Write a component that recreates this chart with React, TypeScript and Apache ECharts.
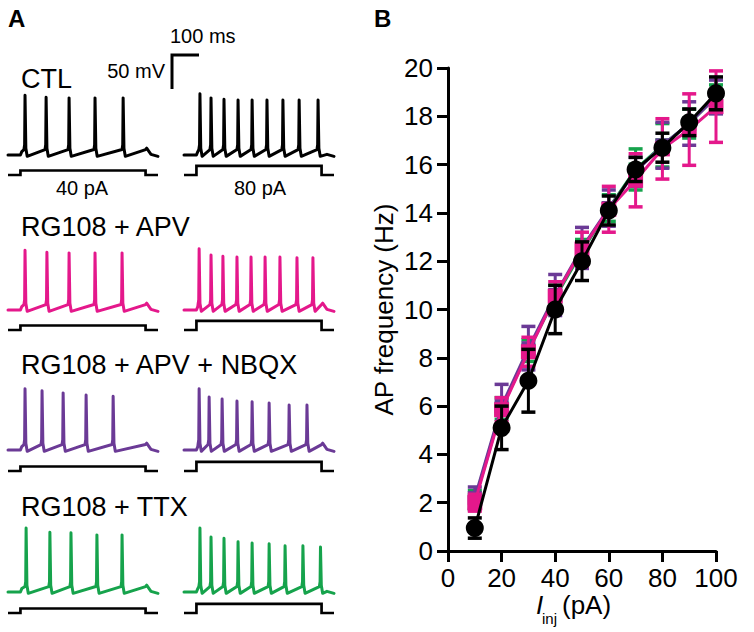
import React, { useEffect, useRef } from "react";
import * as echarts from "echarts";

// ---------- Panel B data ----------
const currents = [10, 20, 30, 40, 50, 60, 70, 80, 90, 100];
const ctlMean = [0.95, 5.1, 7.05, 10.0, 12.0, 14.1, 15.8, 16.7, 17.75, 18.95];
const ctlSem = [0.42, 0.9, 1.3, 1.0, 0.8, 0.6, 0.5, 0.6, 0.55, 0.68];
const apvMean = [2.0, 5.85, 8.25, 10.55, 12.5, 14.15, 15.35, 16.65, 17.45, 18.4];
const apvSem = [0.35, 0.5, 0.6, 0.6, 0.7, 0.95, 1.1, 1.25, 1.48, 1.48];
const nbqxMean = [2.2, 6.0, 8.4, 10.6, 12.55, 14.2, 15.7, 16.8, 17.7, 18.8];
const nbqxSem = [0.45, 0.9, 0.9, 0.85, 0.85, 0.75, 0.6, 0.95, 0.9, 0.7];
const ttxMean = [2.1, 5.9, 8.3, 10.5, 12.4, 14.2, 15.8, 16.8, 17.7, 18.8];
const ttxSem = [0.4, 0.45, 0.45, 0.5, 0.5, 0.55, 0.85, 0.9, 0.6, 0.5];
const yRange = [0, 20];
const xRange = [0, 100];

// ---------- Panel A data (spike times in ms, spike peaks in mV) ----------
const rowLabels = ["CTL", "RG108 + APV", "RG108 + APV + NBQX", "RG108 + TTX"];
const stepAmps = [40, 80]; // pA
const stepLabels = ["40 pA", "80 pA"];
const spikesCtl40 = [63, 141, 226, 322, 426];
const peaksCtl40 = [23, 20, 19, 19, 19];
const spikesCtl80 = [59, 100, 148, 200, 252, 307, 366, 426, 496];
const peaksCtl80 = [25, 19, 17, 16, 16, 16, 16, 16, 16];
const spikesApv40 = [63, 144, 226, 322, 422];
const peaksApv40 = [23, 20, 19, 19, 19];
const spikesApv80 = [56, 100, 144, 196, 248, 300, 355, 418, 477];
const peaksApv80 = [25, 16, 14, 13, 13, 13, 13, 12, 12];
const spikesNbqx40 = [63, 126, 204, 289, 389];
const peaksNbqx40 = [25, 22, 19, 16, 14];
const spikesNbqx80 = [56, 93, 141, 196, 252, 315, 389, 455];
const peaksNbqx80 = [25, 13, 10, 7, 6, 4, 1, 1];
const spikesTtx40 = [67, 155, 233, 329, 422];
const peaksTtx40 = [29, 23, 22, 19, 19];
const spikesTtx80 = [59, 100, 148, 200, 252, 315, 374, 440, 505];
const peaksTtx80 = [29, 16, 14, 9, 7, 6, 3, 3, 1];
const stepOnset = 46; // ms
const stepOffset = 509; // ms
const sweepEnd = 555; // ms
const restV = -65; // mV

const BLACK = "#000000";
const PINK = "#E4188B";
const PURPLE = "#6B3A96";
const GREEN = "#16A34C";
const FONT = "Liberation Sans";

const traceSets = [
  { color: BLACK, cols: [[spikesCtl40, peaksCtl40], [spikesCtl80, peaksCtl80]] },
  { color: PINK, cols: [[spikesApv40, peaksApv40], [spikesApv80, peaksApv80]] },
  { color: PURPLE, cols: [[spikesNbqx40, peaksNbqx40], [spikesNbqx80, peaksNbqx80]] },
  { color: GREEN, cols: [[spikesTtx40, peaksTtx40], [spikesTtx80, peaksTtx80]] },
];

function buildTrace(spikes: number[], peaks: number[]) {
  const pts: number[][] = [[0, restV], [stepOnset, restV], [stepOnset + 5, restV + 5]];
  spikes.forEach((t, i) => {
    pts.push([t - 4, restV + 8], [t - 1.5, restV + 15], [t, peaks[i]], [t + 3, restV + 10], [t + 8, restV - 2]);
  });
  const last = spikes[spikes.length - 1];
  if (last + 8 < stepOffset - 5) {
    pts.push([stepOffset, restV + 8], [stepOffset + 4, restV + 10]);
  }
  pts.push([stepOffset + 20, restV + 1], [sweepEnd, restV - 2]);
  return pts;
}

function buildStep(amp: number) {
  return [[0, 0], [stepOnset, 0], [stepOnset, amp], [stepOffset, amp], [stepOffset, 0], [sweepEnd, 0]];
}

export default function App() {
  const ref = useRef<HTMLDivElement>(null);
  useEffect(() => {
    if (!ref.current) return;
    const chart = echarts.init(ref.current, null, { renderer: "svg" });

    const grids: any[] = [];
    const xAxes: any[] = [];
    const yAxes: any[] = [];
    const series: any[] = [];

    // Panel B grid (index 0)
    grids.push({ left: 448, top: 68, width: 268, height: 483 });
    xAxes.push({
      type: "value", gridIndex: 0, min: xRange[0], max: xRange[1], interval: 20,
      axisLine: { lineStyle: { color: BLACK, width: 3 } },
      axisTick: { length: 11, lineStyle: { color: BLACK, width: 3 } },
      axisLabel: { color: BLACK, fontSize: 26, fontFamily: FONT, margin: 14 },
      splitLine: { show: false },
    });
    yAxes.push({
      type: "value", gridIndex: 0, min: yRange[0], max: yRange[1], interval: 2,
      axisLine: { show: true, lineStyle: { color: BLACK, width: 3 } },
      axisTick: { show: true, length: 11, lineStyle: { color: BLACK, width: 3 } },
      axisLabel: { color: BLACK, fontSize: 26, fontFamily: FONT, margin: 15 },
      splitLine: { show: false },
      name: "AP frequency (Hz)", nameLocation: "middle", nameGap: 51, nameRotate: 90,
      nameTextStyle: { color: BLACK, fontSize: 26, fontFamily: FONT },
    });

    const groups = [
      { name: "RG108 + TTX", mean: ttxMean, sem: ttxSem, color: GREEN, symbol: "rect", size: 14, z: 2 },
      { name: "RG108 + APV + NBQX", mean: nbqxMean, sem: nbqxSem, color: PURPLE, symbol: "rect", size: 14, z: 3 },
      { name: "RG108 + APV", mean: apvMean, sem: apvSem, color: PINK, symbol: "rect", size: 15, z: 4 },
      { name: "CTL", mean: ctlMean, sem: ctlSem, color: BLACK, symbol: "circle", size: 18, z: 5 },
    ];
    groups.forEach((g) => {
      series.push({
        type: "custom", name: g.name + " SEM", xAxisIndex: 0, yAxisIndex: 0, z: g.z,
        encode: { x: 0, y: 1 },
        data: currents.map((c, i) => [c, g.mean[i], g.sem[i]]),
        renderItem: (params: any, api: any) => {
          const x = api.value(0), m = api.value(1), e = api.value(2);
          const hi = api.coord([x, m + e]);
          const lo = api.coord([x, m - e]);
          const hw = 7;
          const st = { stroke: g.color, lineWidth: 3 };
          const cap = { stroke: g.color, lineWidth: 3.5 };
          return {
            type: "group",
            children: [
              { type: "line", shape: { x1: hi[0], y1: hi[1], x2: lo[0], y2: lo[1] }, style: st },
              { type: "line", shape: { x1: hi[0] - hw, y1: hi[1], x2: hi[0] + hw, y2: hi[1] }, style: cap },
              { type: "line", shape: { x1: lo[0] - hw, y1: lo[1], x2: lo[0] + hw, y2: lo[1] }, style: cap },
            ],
          };
        },
      });
      series.push({
        type: "line", name: g.name, xAxisIndex: 0, yAxisIndex: 0, z: g.z,
        data: currents.map((c, i) => [c, g.mean[i]]),
        symbol: g.symbol, symbolSize: g.size, showSymbol: true,
        itemStyle: { color: g.color },
        lineStyle: { color: g.color, width: 3 },
      });
    });

    // Panel A trace grids
    const colLeft = [8, 184];
    const rowBase = [155, 310, 450, 592];
    const rowStepLow = [175, 330, 471, 613];
    const pxPerMs = 150 / sweepEnd;
    const pxPerMv = 0.68;
    const vMin = -80, vMax = 35;
    traceSets.forEach((set, r) => {
      set.cols.forEach((col, c) => {
        const gi = grids.length;
        grids.push({
          left: colLeft[c], width: sweepEnd * pxPerMs,
          top: rowBase[r] - (vMax - restV) * pxPerMv, height: (vMax - vMin) * pxPerMv,
        });
        xAxes.push({ type: "value", gridIndex: gi, min: 0, max: sweepEnd, show: false });
        yAxes.push({ type: "value", gridIndex: gi, min: vMin, max: vMax, show: false });
        series.push({
          type: "line", xAxisIndex: gi, yAxisIndex: gi, symbol: "none",
          data: buildTrace(col[0] as number[], col[1] as number[]),
          lineStyle: { color: set.color, width: 3, join: "round", cap: "round" },
          clip: false,
        });
      });
    });
    // step current grids
    const pxPerPa = 0.113;
    rowStepLow.forEach((low, r) => {
      stepAmps.forEach((amp, c) => {
        const gi = grids.length;
        grids.push({ left: colLeft[c], width: sweepEnd * pxPerMs, top: low - 80 * pxPerPa, height: 80 * pxPerPa });
        xAxes.push({ type: "value", gridIndex: gi, min: 0, max: sweepEnd, show: false });
        yAxes.push({ type: "value", gridIndex: gi, min: 0, max: 80, show: false });
        series.push({
          type: "line", xAxisIndex: gi, yAxisIndex: gi, symbol: "none",
          data: buildStep(amp), clip: false,
          lineStyle: { color: BLACK, width: 2.7, join: "miter" },
        });
      });
    });
    // scale bar grid: 100 ms x 50 mV
    {
      const gi = grids.length;
      grids.push({ left: 172, top: 55, width: 100 * pxPerMs, height: 50 * pxPerMv });
      xAxes.push({ type: "value", gridIndex: gi, min: 0, max: 100, show: false });
      yAxes.push({ type: "value", gridIndex: gi, min: 0, max: 50, show: false });
      series.push({
        type: "line", xAxisIndex: gi, yAxisIndex: gi, symbol: "none", clip: false,
        data: [[100, 50], [0, 50], [0, 0]],
        lineStyle: { color: BLACK, width: 3, join: "miter" },
      });
    }

    const txt = (text: string, x: number, y: number, size: number, extra: any = {}) => ({
      type: "text", x, y,
      style: {
        text, fill: BLACK,
        fontSize: size, fontFamily: FONT,
        fontWeight: extra.weight || "normal",
        fontStyle: extra.italic ? "italic" : "normal",
        textAlign: extra.align || "left", textVerticalAlign: "middle",
      },
    });
    const rowLabelY = [79, 227, 365, 507];
    const graphic: any[] = [
      txt("A", 8, 18, 24, { weight: "bold" }),
      txt("B", 374, 18, 24, { weight: "bold" }),
      txt("100 ms", 170, 36, 20),
      txt("50 mV", 165, 71, 20, { align: "right" }),
      txt(stepLabels[0], 82, 188, 20, { align: "center" }),
      txt(stepLabels[1], 260, 188, 20, { align: "center" }),
      ...rowLabels.map((l, i) => txt(l, 21, rowLabelY[i], 27)),
      txt("I", 536, 605, 26, { italic: true }),
      txt("inj", 542, 618, 15),
      txt("(pA)", 562, 605, 26),
    ];

    chart.setOption({
      animation: false,
      backgroundColor: "#ffffff",
      textStyle: { fontFamily: FONT },
      grid: grids,
      xAxis: xAxes,
      yAxis: yAxes,
      series,
      graphic,
    });
    return () => chart.dispose();
  }, []);
  return <div ref={ref} style={{ position: "fixed", left: 0, top: 0, width: 754, height: 632 }} />;
}
